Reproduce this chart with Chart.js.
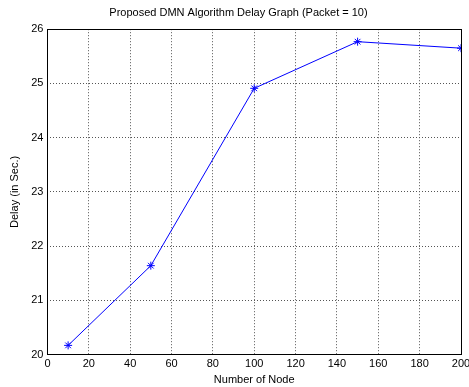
<!DOCTYPE html>
<html>
<head>
<meta charset="utf-8">
<script src="https://cdn.jsdelivr.net/npm/chart.js@4.4.0/dist/chart.umd.min.js"></script>
<style>
  html, body { margin: 0; padding: 0; background: #fff; }
  #wrap { width: 469px; height: 387px; }
</style>
</head>
<body>
<div id="wrap"><canvas id="myChart" width="469" height="387"></canvas></div>
<script>
'use strict';

var nodeCounts = [10, 50, 100, 150, 200];
var delays = [20.17, 21.64, 24.91, 25.77, 25.65];
var xTicks = [0, 20, 40, 60, 80, 100, 120, 140, 160, 180, 200];
var yTicks = [20, 21, 22, 23, 24, 25, 26];

(function () {
    var FONT = '"Liberation Sans", Arial, sans-serif';

    // MATLAB style box around the axes
    var boxPlugin = {
        id: 'box',
        afterDraw: function (chart) {
            var a = chart.chartArea;
            var ctx = chart.ctx;
            ctx.save();
            ctx.strokeStyle = '#000';
            ctx.lineWidth = 1;
            ctx.strokeRect(Math.round(a.left) + 0.5, Math.round(a.top) + 0.5,
                Math.round(a.right - a.left), Math.round(a.bottom - a.top));
            ctx.restore();
        }
    };

    var points = nodeCounts.map(function (n, i) {
        return { x: n, y: delays[i] };
    });

    var ctx = document.getElementById('myChart');
    new Chart(ctx, {
        type: 'line',
        data: {
            datasets: [{
                data: points,
                borderColor: '#0000ff',
                borderWidth: 1,
                pointStyle: 'star',
                pointRadius: 4,
                pointBorderColor: '#0000ff',
                pointBorderWidth: 1,
                fill: false,
                tension: 0
            }]
        },
        options: {
            responsive: false,
            animation: false,
            layout: { padding: { left: 8, right: 0, top: 0, bottom: 0 } },
            plugins: {
                legend: { display: false },
                tooltip: { enabled: false },
                title: {
                    display: true,
                    text: 'Proposed DMN Algorithm Delay Graph (Packet = 10)',
                    color: '#000',
                    font: { family: FONT, size: 11, weight: 'normal' },
                    padding: { top: 6, bottom: 10 }
                }
            },
            scales: {
                x: {
                    type: 'linear',
                    min: 0,
                    max: 200,
                    afterBuildTicks: function (axis) {
                        axis.ticks = xTicks.map(function (v) { return { value: v }; });
                    },
                    afterFit: function (axis) {
                        // let the last label run off the edge like the original
                        axis.paddingRight = 8;
                    },
                    grid: {
                        color: '#555',
                        lineWidth: 1,
                        drawTicks: false
                    },
                    border: { display: false, dash: [1, 2] },
                    ticks: {
                        color: '#000',
                        font: { family: FONT, size: 11 },
                        padding: 3,
                        maxRotation: 0
                    },
                    title: {
                        display: true,
                        text: 'Number of Node',
                        color: '#000',
                        font: { family: FONT, size: 11 },
                        padding: { top: 0, bottom: 0 }
                    }
                },
                y: {
                    type: 'linear',
                    min: 20,
                    max: 26,
                    afterBuildTicks: function (axis) {
                        axis.ticks = yTicks.map(function (v) { return { value: v }; });
                    },
                    grid: {
                        color: '#555',
                        lineWidth: 1,
                        drawTicks: false
                    },
                    border: { display: false, dash: [1, 2] },
                    ticks: {
                        color: '#000',
                        font: { family: FONT, size: 11 },
                        padding: 4
                    },
                    title: {
                        display: true,
                        text: 'Delay (in Sec.)',
                        color: '#000',
                        font: { family: FONT, size: 11 },
                        padding: { top: 0, bottom: 6 }
                    }
                }
            }
        },
        plugins: [boxPlugin]
    });
})();
</script>
</body>
</html>
